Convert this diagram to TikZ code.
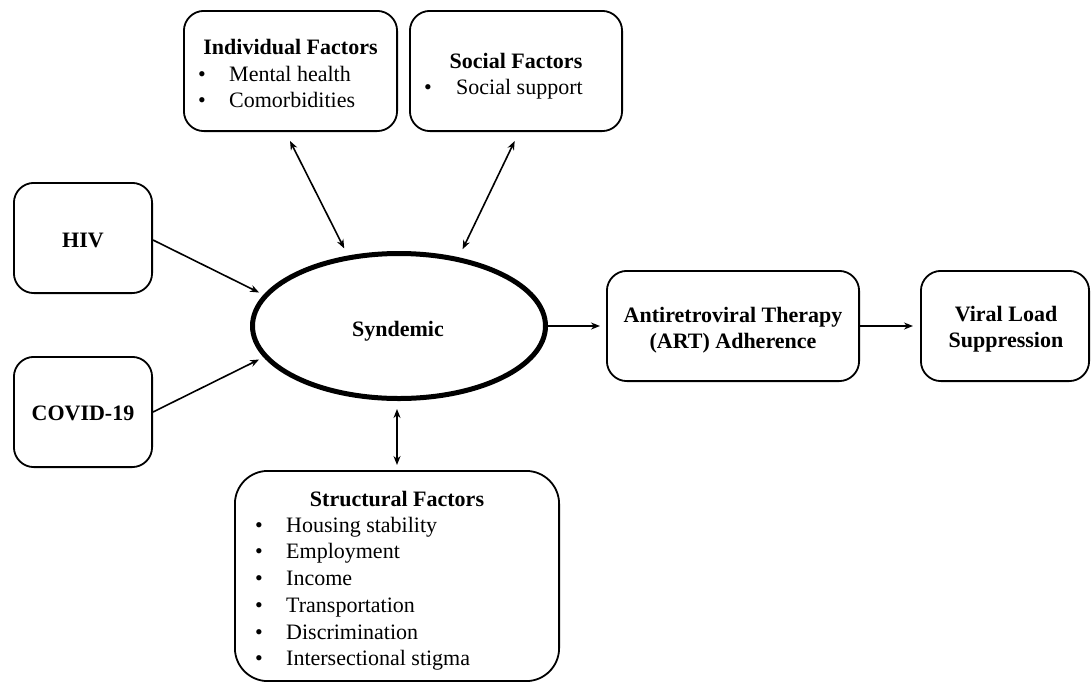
\documentclass[tikz,border=0pt]{standalone}
\usepackage{fontspec}
\setmainfont{Liberation Serif}
\usetikzlibrary{arrows.meta,shapes.geometric}
\begin{document}
\begin{tikzpicture}[x=1pt,y=-1pt,
  box/.style={draw, line width=1.8pt, rounded corners=20pt, inner sep=0pt},
  ttl/.style={font=\fontsize{22}{26}\selectfont\bfseries, anchor=base, inner sep=0pt},
  item/.style={font=\fontsize{22}{26}\selectfont, anchor=base west, inner sep=0pt},
  bul/.style={font=\fontsize{22}{26}\selectfont, anchor=base, inner sep=0pt},
  tip/.tip={Stealth[length=9pt,width=7pt]},
  arr/.style={line width=1.6pt, -tip},
  biarr/.style={line width=1.6pt, tip-tip}]
\useasboundingbox (0,0) rectangle (1091,681);
\fill[white] (0,0) rectangle (1091,681);

% Individual factors
\node[box, minimum width=213.2pt, minimum height=120.2pt] (ind) at (290.5,71) {};
\node[ttl] (indt) at (290.5,54) {Individual Factors};
\node[bul] (indb1) at (202,81) {•};
\node[item] (indi1) at (229,81) {Mental health};
\node[bul] (indb2) at (202,107) {•};
\node[item] (indi2) at (229,107) {Comorbidities};

% Social factors
\node[box, minimum width=212.2pt, minimum height=120.2pt] (soc) at (516,71) {};
\node[ttl] (soct) at (516,68) {Social Factors};
\node[bul] (socb1) at (428,94) {•};
\node[item] (soci1) at (456,94) {Social support};

% HIV and COVID-19
\node[box, minimum width=138.2pt, minimum height=110.2pt] (hiv) at (83,238) {};
\node[ttl] (hivt) at (83,247) {HIV};
\node[box, minimum width=138.2pt, minimum height=110.2pt] (cov) at (83,412) {};
\node[ttl] (covt) at (83,420) {COVID-19};

% Syndemic
\node[draw, ellipse, line width=5pt, minimum width=293pt, minimum height=145pt, inner sep=0pt] (syn) at (399,326) {};
\node[ttl] (synt) at (398,336) {Syndemic};

% ART adherence
\node[box, minimum width=252.2pt, minimum height=110.2pt] (art) at (733,326) {};
\node[ttl] (artt1) at (733,322) {Antiretroviral Therapy};
\node[ttl] (artt2) at (733,348) {(ART) Adherence};

% Viral load suppression
\node[box, minimum width=168.2pt, minimum height=110.2pt] (vir) at (1005,326) {};
\node[ttl] (virt1) at (1006,321) {Viral Load};
\node[ttl] (virt2) at (1006,347) {Suppression};

% Structural factors
\node[box, rounded corners=33pt, minimum width=324.2pt, minimum height=210.2pt] (str) at (397,576) {};
\node[ttl] (strt) at (397,506) {Structural Factors};
\foreach \y/\t [count=\i] in {532/Housing stability, 558/Employment, 585/Income, 612/Transportation, 639/Discrimination, 665/Intersectional stigma}{
  \node[bul] (strb\i) at (259,\y) {•};
  \node[item] (stri\i) at (286,\y) {\t};
}

% Connectors
\draw[biarr, shorten <=10pt, shorten >=8pt] ([xshift=-5pt]ind.south) -- (syn.126);
\draw[biarr, shorten <=10pt, shorten >=9pt] ([xshift=3pt]soc.south) -- (syn.49);
\draw[arr, shorten >=5pt] ([yshift=-2pt]hiv.east) -- (syn.167);
\draw[arr, shorten >=5pt] (cov.east) -- (syn.193);
\draw[arr, shorten >=6pt] (syn.east) -- (art.west);
\draw[arr, shorten >=7pt] (art.east) -- (vir.west);
\draw[biarr, shorten <=8pt, shorten >=5pt] (str.north |- syn.south) -- (str.north);
\end{tikzpicture}
\end{document}
